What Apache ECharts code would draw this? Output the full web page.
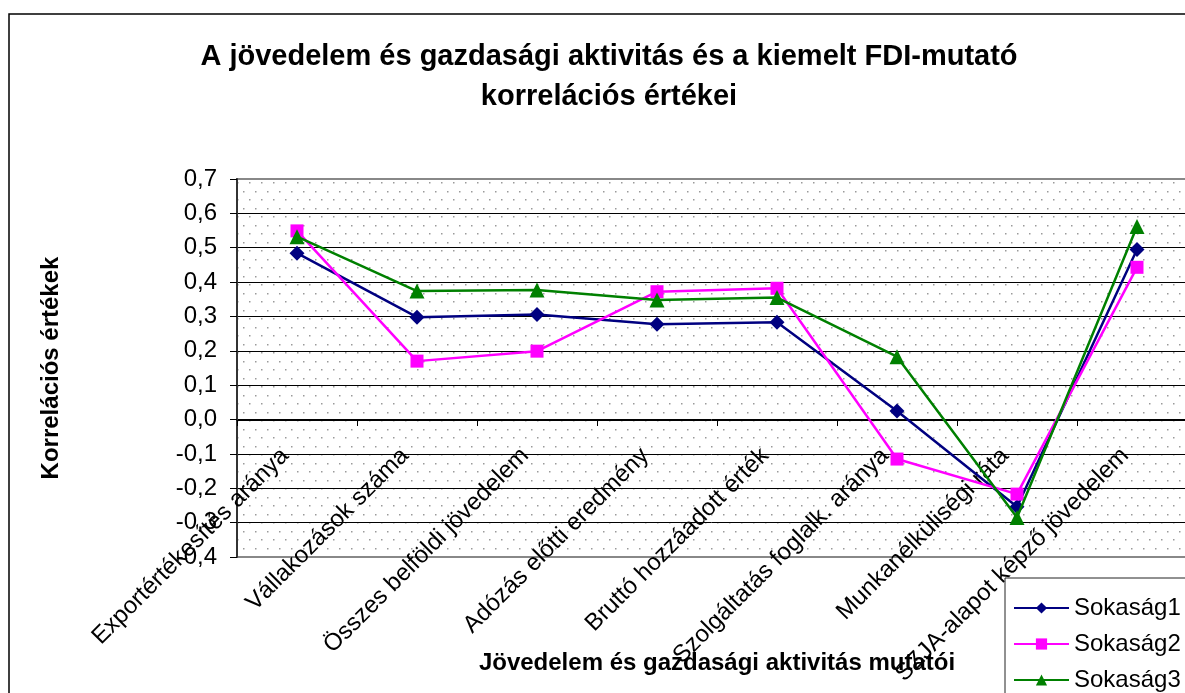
<!DOCTYPE html>
<html>
<head>
<meta charset="utf-8">
<script src="https://cdn.jsdelivr.net/npm/echarts@6/dist/echarts.min.js"></script>
<style>
  html, body { margin: 0; padding: 0; background: #fff; }
  #chart { width: 1185px; height: 693px; }
</style>
</head>
<body>
<div id="chart"></div>
<script>
// kategóriák
const categories = [
  'Exportértékesítés aránya',
  'Vállakozások száma',
  'Összes belföldi jövedelem',
  'Adózás előtti eredmény',
  'Bruttó hozzáadott érték',
  'Szolgáltatás foglalk. aránya',
  'Munkanélküliségi ráta',
  'SZJA-alapot képző jövedelem'
];

// sorozatok
const sokasag1 = [0.484, 0.298, 0.306, 0.277, 0.283, 0.025, -0.254, 0.495];
const sokasag2 = [0.549, 0.170, 0.199, 0.372, 0.382, -0.115, -0.217, 0.443];
const sokasag3 = [0.532, 0.374, 0.377, 0.348, 0.355, 0.183, -0.285, 0.562];

const FONT = '"Liberation Sans", Arial, sans-serif';

// pöttyös háttér minta
const pat = document.createElement('canvas');
pat.width = 12;
pat.height = 17;
const pctx = pat.getContext('2d');
pctx.fillStyle = '#fff';
pctx.fillRect(0, 0, 12, 17);
pctx.fillStyle = '#9a9a9a';
pctx.fillRect(3, 4, 1.5, 1.5);
pctx.fillRect(9, 12, 1.5, 1.5);

const chart = echarts.init(document.getElementById('chart'));

const splitColors = ['#888'];
for (let i = 0; i < 10; i++) splitColors.push('#000');
splitColors.push('#888');

// az x tengely a 0 vonalon fut (rács alja 557, nulla 420)
const zeroOffset = -137;

const option = {
  backgroundColor: '#fff',
  animation: false,
  graphic: [
    {
      type: 'rect',
      z: -10,
      shape: { x: 9, y: 14, width: 1200, height: 700 },
      style: { fill: 'none', stroke: '#000', lineWidth: 1.5 }
    }
  ],
  title: {
    text: 'A jövedelem és gazdasági aktivitás és a kiemelt FDI-mutató\nkorrelációs értékei',
    left: 604,
    textAlign: 'center',
    top: 32,
    textStyle: {
      fontFamily: FONT,
      fontSize: 29,
      fontWeight: 'bold',
      color: '#000',
      lineHeight: 40
    }
  },
  legend: {
    orient: 'vertical',
    left: 1005,
    top: 578,
    height: 200,
    padding: [18, 30, 30, 8],
    itemWidth: 55,
    itemHeight: 14,
    itemGap: 12,
    backgroundColor: '#fff',
    borderColor: '#222',
    borderWidth: 1,
    textStyle: { fontFamily: FONT, fontSize: 24, color: '#000' },
    data: ['Sokaság1', 'Sokaság2', 'Sokaság3']
  },
  grid: {
    left: 237,
    top: 179,
    width: 960,
    height: 378,
    outerBoundsMode: 'none',
    containLabel: false,
    show: true,
    backgroundColor: { image: pat, repeat: 'repeat' },
    borderColor: '#888',
    borderWidth: 2
  },
  xAxis: {
    type: 'category',
    data: categories,
    boundaryGap: true,
    position: 'bottom',
    offset: zeroOffset,
    name: 'Jövedelem és gazdasági aktivitás mutatói',
    nameLocation: 'middle',
    nameGap: 231,
    nameMoveOverlap: false,
    nameTextStyle: { fontFamily: FONT, fontSize: 24, fontWeight: 'bold', color: '#000' },
    axisLine: { onZero: false, lineStyle: { color: '#000', width: 1 } },
    axisTick: { show: true, length: 6, lineStyle: { color: '#000' } },
    axisLabel: {
      rotate: 45,
      interval: 0,
      hideOverlap: false,
      margin: 20,
      padding: [0, 17, 0, 0],
      fontFamily: FONT,
      fontSize: 24,
      color: '#000'
    },
    splitLine: { show: false }
  },
  yAxis: {
    type: 'value',
    min: -0.4,
    max: 0.7,
    interval: 0.1,
    name: 'Korrelációs értékek',
    nameLocation: 'middle',
    nameGap: 174,
    nameMoveOverlap: false,
    nameTextStyle: { fontFamily: FONT, fontSize: 24, fontWeight: 'bold', color: '#000' },
    axisLine: { show: true, lineStyle: { color: '#333', width: 2 } },
    axisTick: { show: true, length: 7, lineStyle: { color: '#000' } },
    axisLabel: {
      margin: 20,
      fontFamily: FONT,
      fontSize: 24,
      color: '#000',
      formatter: v => v.toFixed(1).replace('.', ',')
    },
    splitLine: { show: true, lineStyle: { color: splitColors, width: 1 } }
  },
  series: [
    {
      name: 'Sokaság1',
      type: 'line',
      data: sokasag1,
      symbol: 'diamond',
      symbolSize: 15,
      lineStyle: { color: '#000080', width: 2.5 },
      itemStyle: { color: '#000080' },
      z: 3
    },
    {
      name: 'Sokaság2',
      type: 'line',
      data: sokasag2,
      symbol: 'rect',
      symbolSize: 13,
      lineStyle: { color: '#ff00ff', width: 2.5 },
      itemStyle: { color: '#ff00ff' },
      z: 4
    },
    {
      name: 'Sokaság3',
      type: 'line',
      data: sokasag3,
      symbol: 'triangle',
      symbolSize: 15,
      lineStyle: { color: '#008000', width: 2.5 },
      itemStyle: { color: '#008000' },
      z: 5
    }
  ]
};

chart.setOption(option);

window.addEventListener('resize', () => chart.resize());
</script>
</body>
</html>
